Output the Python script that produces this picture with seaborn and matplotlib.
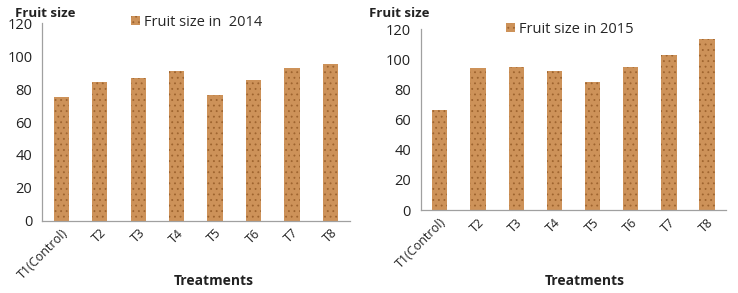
import pandas as pd
import matplotlib.pyplot as plt
import matplotlib.transforms as mtransforms
import seaborn as sns
from matplotlib.patches import Patch
from matplotlib.ticker import FixedLocator

# data
treatments = ['T1(Control)', 'T2', 'T3', 'T4', 'T5', 'T6', 'T7', 'T8']
size_2014 = [75, 84, 86.5, 91, 76.5, 85.5, 92.5, 95.5]
size_2015 = [66, 94, 94.5, 92.5, 85, 94.5, 103, 113.5]
y_ticks = [0, 20, 40, 60, 80, 100, 120]

sns.set_style('white')
plt.rcParams['font.family'] = ['Open Sans', 'DejaVu Sans']
plt.rcParams['hatch.linewidth'] = 0.6

fig = plt.figure(figsize=(7.38, 2.93), dpi=100)
ax1 = fig.add_axes([0.057, 0.246, 0.417, 0.675])
ax2 = fig.add_axes([0.570, 0.283, 0.414, 0.618])

bar_col = '#CD9259'
speck_col = '#9E642F'
spine_col = '#a0a0a0'

panels = [
    # axes, values, legend text, legend x, legend y, xlabel x, xlabel y
    (ax1, size_2014, 'Fruit size in  2014', 0.29, 1.005, 0.558, -0.303),
    (ax2, size_2015, 'Fruit size in 2015', 0.28, 1.0, 0.538, -0.392),
]

for ax, vals, label, lx, ly, tx, ty in panels:
    df = pd.DataFrame({'treatment': treatments, 'size': vals})
    sns.barplot(data=df, x='treatment', y='size', ax=ax, color=bar_col,
                width=0.4, saturation=1, edgecolor=speck_col, linewidth=0,
                hatch='...')
    ax.set_ylim(0, 120)
    ax.set_xlim(-0.5, len(treatments) - 0.5)
    ax.set_yticks(y_ticks)
    ax.set_xticks(range(len(treatments)))
    ax.set_xticklabels(treatments, rotation=45, ha='right', rotation_mode='anchor', fontsize=9)
    shift = mtransforms.ScaledTranslation(6 / 100, 0, fig.dpi_scale_trans)
    for lab in ax.get_xticklabels():
        lab.set_transform(lab.get_transform() + shift)
        lab.set_color('#222222')
    ax.tick_params(axis='y', labelsize=10.5, length=3, color=spine_col,
                   width=0.8, pad=4, labelcolor='#222222')
    ax.tick_params(axis='x', length=0, pad=4)
    ax.xaxis.set_minor_locator(FixedLocator([i - 0.5 for i in range(len(treatments) + 1)]))
    ax.tick_params(axis='x', which='minor', length=4, color=spine_col, width=0.8)
    sns.despine(ax=ax)
    for s in ['left', 'bottom']:
        ax.spines[s].set_color(spine_col)
        ax.spines[s].set_linewidth(0.9)
    ax.set_ylabel('')
    ax.set_xlabel('Treatments', fontsize=10, fontweight='bold', color='#222222', va='center')
    ax.xaxis.set_label_coords(tx, ty)

    h = Patch(facecolor=bar_col, edgecolor=speck_col, hatch='...', linewidth=0)
    ax.legend([h], [label], loc='center left', bbox_to_anchor=(lx, ly),
              frameon=False, fontsize=10.5, handlelength=0.6, handleheight=0.6,
              handletextpad=0.3, borderaxespad=0, borderpad=0)

fig.text(0.020, 0.955, 'Fruit size', fontsize=9.5, fontweight='bold', va='center', color='#222222')
fig.text(0.500, 0.955, 'Fruit size', fontsize=9.5, fontweight='bold', va='center', color='#222222')

plt.savefig('out.png', dpi=100)
